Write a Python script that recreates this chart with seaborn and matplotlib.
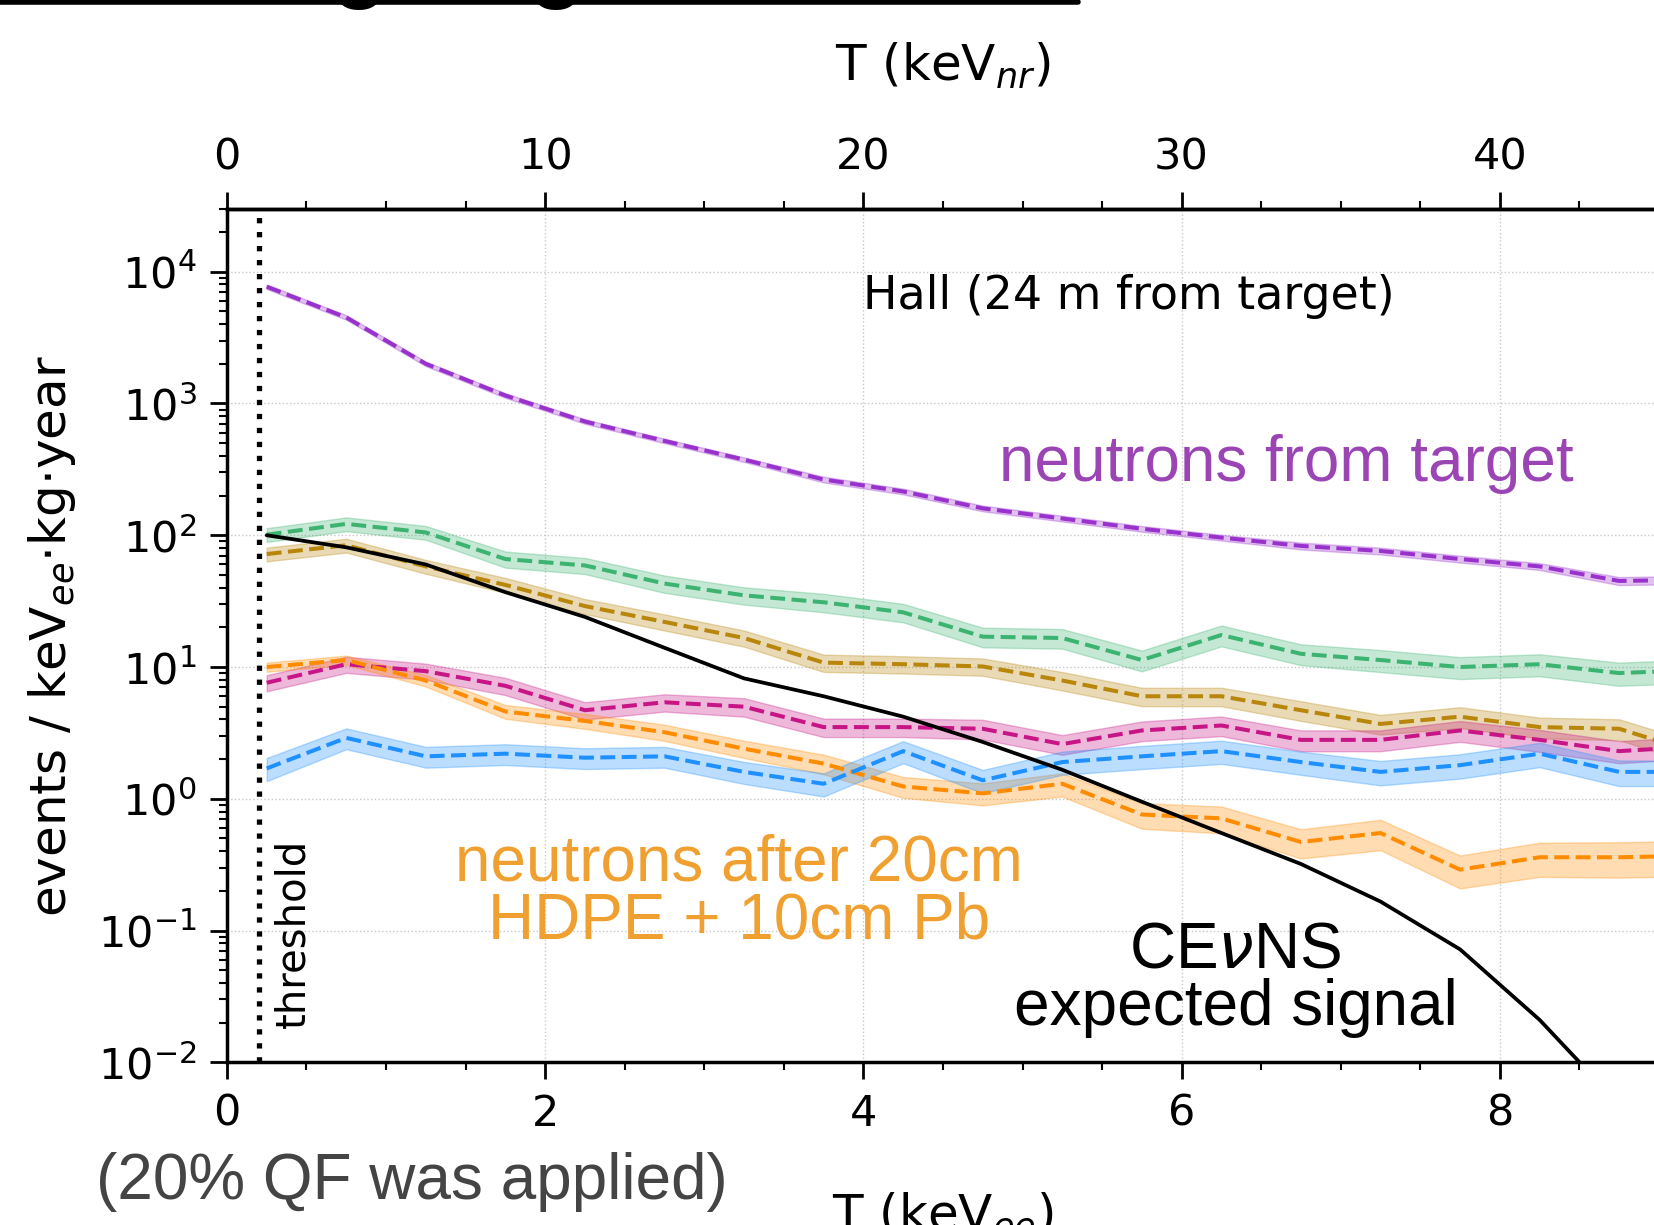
import matplotlib
matplotlib.use("Agg")
import matplotlib.pyplot as plt
from matplotlib.lines import Line2D
from matplotlib.ticker import MultipleLocator, LogLocator
import seaborn as sns
import numpy as np
import pandas as pd

# bin centres in keV_ee (20% quenching factor -> keV_nr = 5 * keV_ee)
t_ee = [0.25, 0.75, 1.25, 1.75, 2.25, 2.75, 3.25, 3.75, 4.25, 4.75,
        5.25, 5.75, 6.25, 6.75, 7.25, 7.75, 8.25, 8.75, 9.25]

# background rates, events / keV_ee kg year
target = [7700, 4500, 2000, 1150, 730, 520, 375, 265, 215, 160,
          134, 112, 96, 83, 76, 66, 58, 45, 46]
green = [101, 122, 105, 66, 59, 43, 35, 31, 26, 17,
         16.6, 11.3, 17.5, 12.6, 11.3, 10.0, 10.5, 9.0, 9.5]
brown = [72, 84, 58, 42, 29, 22, 16.6, 10.8, 10.5, 10.1,
         7.9, 6.0, 6.0, 4.7, 3.7, 4.2, 3.5, 3.4, 2.2]
magenta = [7.6, 10.5, 9.3, 7.2, 4.7, 5.4, 5.0, 3.5, 3.5, 3.4,
           2.6, 3.3, 3.6, 2.8, 2.8, 3.3, 2.8, 2.3, 2.5]
shielded = [10.0, 11.3, 7.9, 4.6, 3.9, 3.2, 2.4, 1.85, 1.24, 1.1,
            1.3, 0.76, 0.71, 0.47, 0.55, 0.29, 0.36, 0.36, 0.37]
blue = [1.7, 2.9, 2.1, 2.2, 2.05, 2.1, 1.6, 1.3, 2.3, 1.38,
        1.9, 2.1, 2.3, 1.9, 1.6, 1.8, 2.2, 1.6, 1.6]

# relative half-width of the shaded bands
target_err = [0.04, 0.04, 0.04, 0.04, 0.04, 0.04, 0.04, 0.05, 0.05, 0.05,
              0.05, 0.05, 0.05, 0.06, 0.06, 0.06, 0.06, 0.07, 0.07]
green_err = [0.12, 0.12, 0.12, 0.14, 0.14, 0.15, 0.15, 0.16, 0.16, 0.17,
             0.17, 0.18, 0.18, 0.18, 0.19, 0.19, 0.19, 0.2, 0.2]
brown_err = [0.12, 0.12, 0.12, 0.13, 0.13, 0.14, 0.14, 0.15, 0.15, 0.15,
             0.16, 0.16, 0.16, 0.17, 0.17, 0.18, 0.18, 0.18, 0.19]
magenta_err = [0.14, 0.14, 0.14, 0.15, 0.15, 0.15, 0.16, 0.16, 0.16, 0.17,
               0.17, 0.17, 0.17, 0.18, 0.18, 0.18, 0.19, 0.19, 0.19]
shielded_err = [0.08, 0.08, 0.1, 0.12, 0.13, 0.14, 0.15, 0.17, 0.18, 0.19,
                0.2, 0.22, 0.23, 0.25, 0.26, 0.28, 0.29, 0.3, 0.3]
blue_err = [0.2, 0.18, 0.18, 0.18, 0.18, 0.18, 0.19, 0.2, 0.19, 0.2,
            0.2, 0.2, 0.2, 0.2, 0.21, 0.21, 0.21, 0.22, 0.22]

# expected CEvNS signal
sig_ee = [0.25, 0.75, 1.25, 1.75, 2.25, 2.75, 3.25, 3.75, 4.25, 4.75,
          5.25, 5.75, 6.25, 6.75, 7.25, 7.75, 8.25, 8.75]
signal = [100, 81, 60, 37, 24, 14, 8.2, 6.0, 4.2, 2.7,
          1.66, 0.95, 0.55, 0.32, 0.166, 0.072, 0.021, 0.0048]

threshold = 0.2

series = [
    (target, target_err, "darkorchid"),
    (green, green_err, "mediumseagreen"),
    (brown, brown_err, "darkgoldenrod"),
    (magenta, magenta_err, "mediumvioletred"),
    (shielded, shielded_err, "darkorange"),
    (blue, blue_err, "dodgerblue"),
]

sns.set_style("ticks")
plt.rcParams["font.family"] = ["DejaVu Sans"]
plt.rcParams["mathtext.fontset"] = "dejavusans"
for k in ["text.color", "axes.labelcolor", "xtick.color", "ytick.color", "axes.edgecolor"]:
    plt.rcParams[k] = "black"

fig = plt.figure(figsize=(16.54, 12.25), dpi=100)
ax = fig.add_axes([0.1372, 0.1328, 0.8658, 0.6967])

for vals, err, col in series:
    y = np.asarray(vals)
    e = np.asarray(err)
    ax.fill_between(t_ee, y * (1 - e), y * (1 + e), color=col, alpha=0.3, lw=1)
    sns.lineplot(x=t_ee, y=vals, ax=ax, color=col, lw=2.9, linestyle="--")

sns.lineplot(x=sig_ee, y=signal, ax=ax, color="black", lw=2.7)
ax.axvline(threshold, color="black", lw=3.8, linestyle=":")

ax.set_yscale("log")
ax.set_xlim(0, 9)
ax.set_ylim(1e-2, 3e4)
ax.xaxis.set_major_locator(MultipleLocator(2))
ax.xaxis.set_minor_locator(MultipleLocator(0.5))
ax.yaxis.set_major_locator(LogLocator(base=10, numticks=20))
ax.yaxis.set_minor_locator(LogLocator(base=10, subs=np.arange(2, 10), numticks=20))
ax.grid(True, which="major", color="#c8c8c8", linestyle=":", lw=1)

ax.tick_params(which="major", length=12, width=2, labelsize=31, pad=10, direction="out")
ax.tick_params(which="minor", length=6, width=1.5, direction="out")
for s in ["left", "bottom", "top"]:
    ax.spines[s].set_linewidth(2.5)
ax.spines["right"].set_visible(False)

ax.set_xlabel("T (keV$_{ee}$)", fontsize=36, labelpad=40)
ax.set_ylabel("events / keV$_{ee}$$\\cdot$kg$\\cdot$year", fontsize=36, labelpad=14)

top = ax.secondary_xaxis("top", functions=(lambda x: x * 5, lambda x: x / 5))
top.xaxis.set_major_locator(MultipleLocator(10))
top.xaxis.set_minor_locator(MultipleLocator(2.5))
top.tick_params(which="major", length=12, width=2, labelsize=31, pad=10)
top.tick_params(which="minor", length=6, width=1.5)
top.spines["top"].set_linewidth(2.5)
top.set_xlabel("T (keV$_{nr}$)", fontsize=36, labelpad=40)

ax.text(4.0, 6500, "Hall (24 m from target)", fontsize=33, va="center", ha="left")
ax.text(0.42, 0.095, "threshold", fontsize=29, rotation=90, va="center", ha="center")

# slide annotations
fig.text(0.778, 0.621, "neutrons from target", fontsize=46, color="#9b45b5",
         family="Liberation Sans", ha="center", va="center")
fig.text(0.447, 0.2714, "neutrons after 20cm\nHDPE + 10cm Pb", fontsize=46,
         color="#f0a030", family="Liberation Sans", ha="center", va="center",
         multialignment="center", linespacing=0.95)
fig.text(0.747, 0.2008, "CE$\\nu$NS\nexpected signal", fontsize=46, color="black",
         family="Liberation Sans", ha="center", va="center",
         multialignment="center", linespacing=0.95)
fig.text(0.249, 0.0355, "(20% QF was applied)", fontsize=46, color="#444444",
         family="Liberation Sans", ha="center", va="center")

# bits of the slide title above the crop
fig.add_artist(Line2D([0, 0.652], [0.9985, 0.9985], color="black", lw=4,
                      transform=fig.transFigure))
fig.text(0.217, 1.0075, "g", fontsize=66, weight="bold", family="Liberation Sans",
         ha="center", va="baseline")
fig.text(0.336, 1.0075, "g", fontsize=66, weight="bold", family="Liberation Sans",
         ha="center", va="baseline")

fig.savefig("out.png", dpi=100)
